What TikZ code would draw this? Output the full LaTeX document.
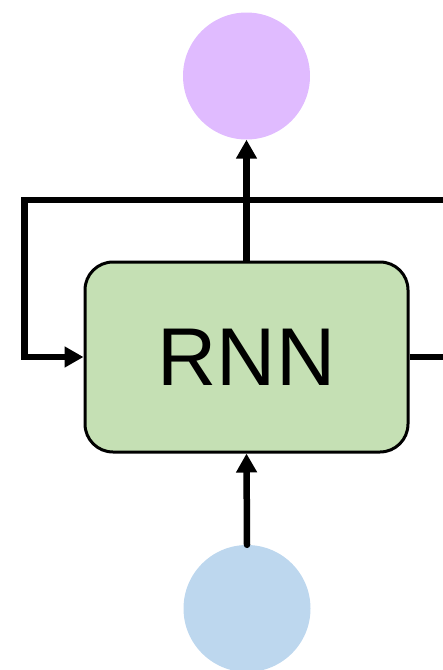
\documentclass[tikz,border=0pt]{standalone}
\usepackage{fontspec}
\setmainfont{Liberation Sans}
\usetikzlibrary{arrows.meta}
\definecolor{cellgreen}{HTML}{C5E0B4}
\definecolor{outpurple}{HTML}{E0BBFF}
\definecolor{inblue}{HTML}{BDD7EE}
\begin{document}
\begin{tikzpicture}[x=1pt,y=-1pt,
  wire/.style={line width=6.5pt,line join=miter},
  flow/.style={wire,-{Triangle[length=19pt,width=20pt]}},
  blob/.style={circle,inner sep=0pt,minimum size=127pt},
  cell/.style={draw,line width=3pt,fill=cellgreen,rounded corners=28pt,
    minimum width=323pt,minimum height=190pt,inner sep=0pt,
    font=\fontsize{82}{82}\selectfont}]
  \useasboundingbox (0,0) rectangle (443,670);
  % recurrent cell, output and input states
  \node[cell] (rnn) at (246.5,357) {RNN};
  \node[blob,fill=outpurple] (out) at (246.5,76) {};
  \node[blob,fill=inblue] (in) at (247,608.5) {};
  % hidden state wires leaving the frame
  \coordinate (hin) at (443,200);
  \coordinate (hout) at (443,357);
  % connections
  \draw[flow] (rnn.north) -- (out.south);
  \draw[flow,line cap=round] (in.north) -- (rnn.south);
  \draw[flow] (hin) -- (24.5,200) |- (rnn.west);
  \draw[wire] (rnn.east) -- (hout);
\end{tikzpicture}
\end{document}
